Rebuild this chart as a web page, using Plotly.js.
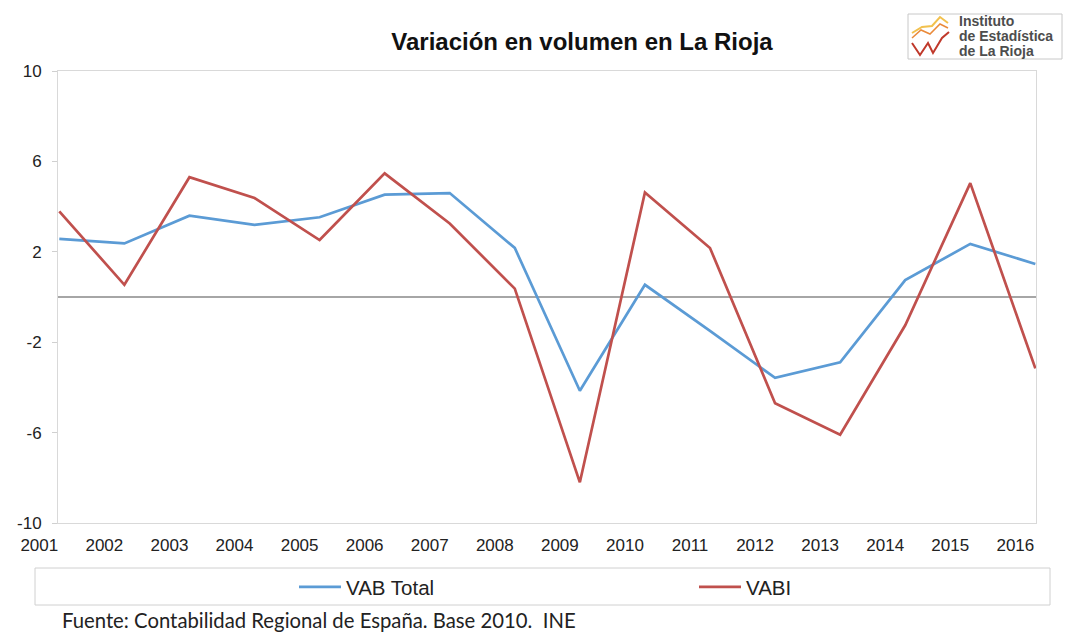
<!DOCTYPE html>
<html>
<head>
<meta charset="utf-8">
<script src="https://cdn.plot.ly/plotly-3.0.1.min.js"></script>
<style>html,body{margin:0;padding:0;background:#fff;}#chart{width:1068px;height:634px;}</style>
</head>
<body>
<div id="chart"></div>
<script>
const years = [2001,2002,2003,2004,2005,2006,2007,2008,2009,2010,2011,2012,2013,2014,2015,2016];
const vabTotal = [2.57,2.37,3.6,3.19,3.53,4.53,4.6,2.17,-4.15,0.54,-1.5,-3.58,-2.89,0.75,2.35,1.46];
const vabi = [3.79,0.54,5.3,4.38,2.52,5.47,3.25,0.37,-8.2,4.63,2.17,-4.7,-6.09,-1.25,5.04,-3.16];
const yTicks = [-10,-6,-2,2,6,10];
const yTickText = ['-10','-6','-2','2','6','10'];
const seriesNames = ['VAB Total','VABI'];

// layout geometry (pixels)
const W = 1068, H = 634, L = 58, R = 1036, T = 71, B = 523;
const px = x => (x - L) / (R - L);
const py = y => (B - y) / (B - T);

const sans = '"Liberation Sans", Arial, sans-serif';
const srcFont = 'Lato, "Liberation Sans", sans-serif';

const traces = [
  {x: years, y: vabTotal, name: seriesNames[0], type: 'scatter', mode: 'lines', legend: 'legend',
   line: {color: '#5B9BD5', width: 2.7}},
  {x: years, y: vabi, name: seriesNames[1], type: 'scatter', mode: 'lines', legend: 'legend2',
   line: {color: '#C0504D', width: 2.7}}
];

function path(pts){ return 'M' + pts.map(p => px(p[0]) + ',' + py(p[1])).join(' L'); }

const shapes = [
  // legend box
  {type:'rect', xref:'paper', yref:'paper', x0:px(35), x1:px(1050), y0:py(568), y1:py(605),
   line:{color:'#d0d0d0', width:1}, fillcolor:'rgba(0,0,0,0)'},
  // logo box
  {type:'rect', xref:'paper', yref:'paper', x0:px(908), x1:px(1062), y0:py(14), y1:py(59),
   line:{color:'#c8c8c8', width:1}, fillcolor:'#fff'},
  {type:'path', xref:'paper', yref:'paper', path: path([[912,33],[922,27],[932,26],[940,17],[948,23]]),
   line:{color:'#f2c14e', width:2}},
  {type:'path', xref:'paper', yref:'paper', path: path([[912,38],[921,30],[930,34],[940,24],[948,28]]),
   line:{color:'#ea8a3a', width:1.5}},
  {type:'path', xref:'paper', yref:'paper', path: path([[912,43],[920,55],[928,43],[933,53],[942,38],[949,32]]),
   line:{color:'#c0392b', width:2}}
];

const logoFont = {family: sans, size: 14, color: '#4d4d4d', weight: 'bold'};
const annotations = [
  {text:'Instituto', xref:'paper', yref:'paper', x:px(957), y:py(21), xanchor:'left', yanchor:'middle', showarrow:false, font:logoFont},
  {text:'de Estadística', xref:'paper', yref:'paper', x:px(957), y:py(36), xanchor:'left', yanchor:'middle', showarrow:false, font:logoFont},
  {text:'de La Rioja', xref:'paper', yref:'paper', x:px(957), y:py(51), xanchor:'left', yanchor:'middle', showarrow:false, font:logoFont},
  {text:'Fuente: Contabilidad Regional de España. Base 2010.  INE', xref:'paper', yref:'paper',
   x:px(60), y:py(620), xanchor:'left', yanchor:'middle', showarrow:false,
   font:{family:srcFont, size:20.3, color:'#222'}}
];

const legendBase = {orientation: 'h', xanchor: 'left', yanchor: 'middle', y: py(587),
  itemwidth: 42, bgcolor: 'rgba(0,0,0,0)', borderwidth: 0,
  font: {family: sans, size: 20.5, color: '#222'}};

const layout = {
  width: W, height: H,
  margin: {l: L, r: W - R, t: T, b: H - B},
  paper_bgcolor: '#fff', plot_bgcolor: '#fff',
  title: {text: '<b>Variación en volumen en La Rioja</b>', x: 582/W, xanchor:'center', y: 1 - 42/H, yanchor:'middle',
          font: {family: sans, size: 24, color: '#111'}},
  xaxis: {range: [2000.98, 2016.01], tickvals: years, ticktext: years.map(String),
          ticks: '', ticklabelshift: -20, ticklabelstandoff: 7, showgrid: false, zeroline: false,
          showline: true, mirror: true, linecolor: '#d9d9d9', linewidth: 1,
          tickfont: {family: sans, size: 17, color: '#222'}},
  yaxis: {range: [-10, 10], tickvals: yTicks, ticktext: yTickText, ticks: 'outside', ticklen: 5, tickcolor: '#d0d0d0',
          ticklabelstandoff: 7,
          showgrid: false, zeroline: true, zerolinecolor: '#a6a6a6', zerolinewidth: 2,
          showline: true, mirror: true, linecolor: '#d9d9d9', linewidth: 1,
          tickfont: {family: sans, size: 17, color: '#222'}},
  showlegend: true,
  legend: Object.assign({}, legendBase, {x: px(294)}),
  legend2: Object.assign({}, legendBase, {x: px(694)}),
  shapes: shapes,
  annotations: annotations
};

Plotly.newPlot('chart', traces, layout, {displayModeBar: false, staticPlot: true});
</script>
</body>
</html>
